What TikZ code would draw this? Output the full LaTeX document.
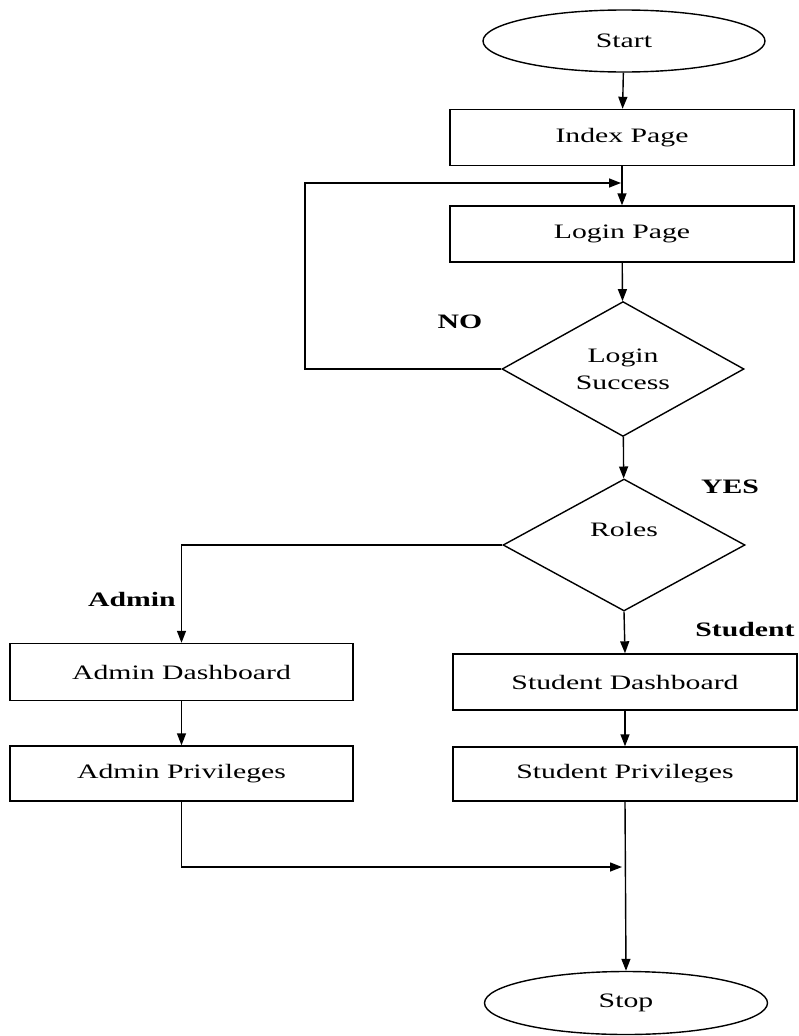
\documentclass[tikz,border=0pt]{standalone}
\usepackage{fontspec}
\setmainfont[FakeStretch=1.45]{Liberation Serif}
\usepackage{tikz}
\usetikzlibrary{shapes,arrows,positioning,calc,arrows.meta}

\begin{document}
\begin{tikzpicture}[x=1pt, y=-1pt, line width=1.4pt,
        >={Triangle[length=12pt,width=9pt]},
        every node/.style={font=\fontsize{20.5}{27}\selectfont},
        procbox/.style={draw, rectangle, minimum width=344pt, minimum height=56pt, inner sep=0pt},
        termnode/.style={draw, ellipse, minimum width=282pt, minimum height=62pt, inner sep=0pt},
        decnode/.style={draw, diamond, minimum width=242pt, minimum height=132pt, inner sep=0pt, align=center},
        branchlbl/.style={font=\fontsize{20.5}{24}\selectfont\bfseries}]
        \useasboundingbox (0,0) rectangle (798,1036);

        % Start and pages
        \node[termnode] (start) at (624,41) {Start};
        \node[procbox] (index) at (622,137.5) {Index Page};
        \node[procbox] (login) at (622,234) {Login Page};

        % Decisions
        \node[decnode] (lsucc) at (623,369) {Login\\Success};
        \node[decnode, label={[yshift=16pt]center:Roles}] (roles) at (624,545) {};

        % Admin side
        \node[procbox, minimum width=343pt, minimum height=57pt] (admdash) at (181.5,672) {Admin Dashboard};
        \node[procbox, minimum width=343pt, minimum height=55pt] (admpriv) at (181.5,773.5) {Admin Privileges};

        % Student side
        \node[procbox] (studash) at (625,682) {Student Dashboard};
        \node[procbox, minimum height=54pt] (stupriv) at (625,774) {Student Privileges};

        % Stop
        \node[termnode, minimum width=283pt, minimum height=63pt] (stop) at (626,1003) {Stop};

        % Branch labels
        \node[branchlbl] (nolbl) at (460,322) {NO};
        \node[branchlbl] (yeslbl) at (730,487) {YES};
        \node[branchlbl] (admlbl) at (132,599) {Admin};
        \node[branchlbl] (stulbl) at (745,630) {Student};

        % Turning points
        \coordinate (noturn) at (305,183);
        \coordinate (loopend) at (621,183);
        \coordinate (merge) at (622,867);

        % Flow
        \draw[->] (start) -- (index);
        \draw[->] (index) -- (login);
        \draw[->] (login) -- (lsucc);
        \draw[->] (lsucc.west) -| (noturn) -- (loopend);
        \draw[->] (lsucc) -- (roles);
        \draw[->] (roles.west) -| (admdash.north);
        \draw[->] (roles.south) -- (studash.north);
        \draw[->] (admdash) -- (admpriv);
        \draw[->] (studash) -- (stupriv);
        \draw[->] (admpriv.south) |- (merge);
        \draw[->] (stupriv.south) -- (stop.north);

    \end{tikzpicture}
\end{document}
